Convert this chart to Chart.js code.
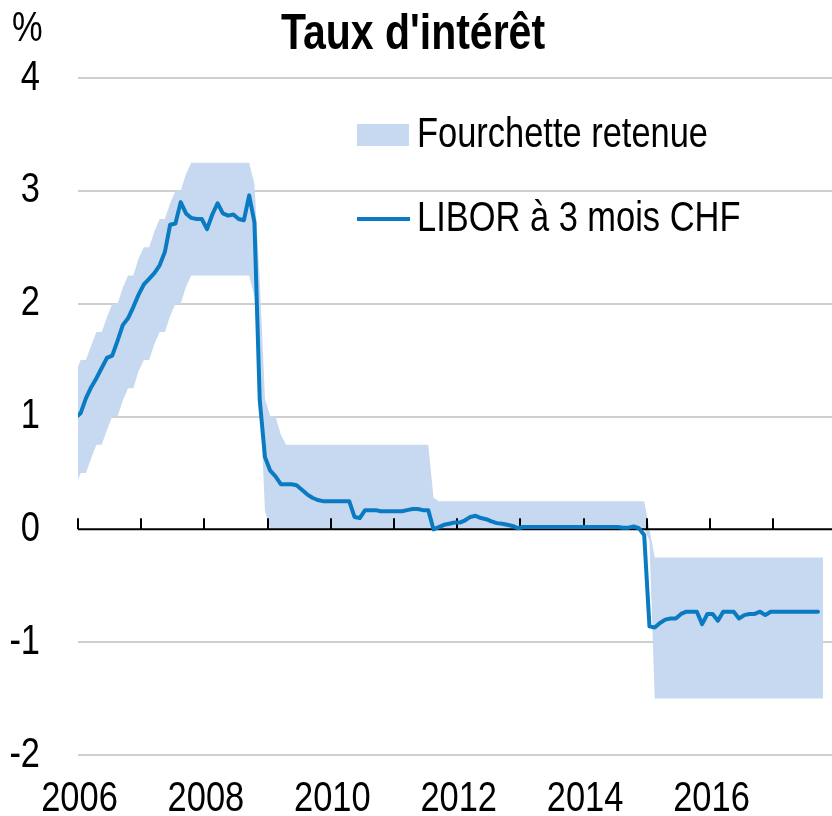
<!DOCTYPE html>
<html><head><meta charset="utf-8">
<script src="https://cdn.jsdelivr.net/npm/chart.js@4.4.0/dist/chart.umd.min.js"></script>
<style>html,body{margin:0;padding:0;background:#fff}#wrap{width:832px;height:816px}</style>
</head><body><div id="wrap"><canvas id="c" width="832" height="816"></canvas></div>
<script>
// Monthly series, first entry = Dec 2005, plotted mid-month
const START_YEAR = 2005 + 11 / 12;
const xTickYears = [2006, 2007, 2008, 2009, 2010, 2011, 2012, 2013, 2014, 2015, 2016, 2017];
const xLabelYears = [2006, 2008, 2010, 2012, 2014, 2016];
const yTicks = [-2, -1, 0, 1, 2, 3, 4];

const bandLow = [0.38,
  0.50,0.50,0.63,0.75,0.75,0.88,1.00,1.00,1.14,1.25,1.25,1.40,
  1.50,1.50,1.64,1.75,1.75,1.89,2.00,2.00,2.15,2.25,2.25,2.25,
  2.25,2.25,2.25,2.25,2.25,2.25,2.25,2.25,2.25,2.06,1.22,0.16,
  0,0,0,0,0,0,0,0,0,0,0,0,
  0,0,0,0,0,0,0,0,0,0,0,0,
  0,0,0,0,0,0,0,0,0,0,0,0,
  0,0,0,0,0,0,0,0,0,0,0,0,
  0,0,0,0,0,0,0,0,0,0,0,0,
  0,0,0,0,0,0,0,0,0,0,0,0,
  -0.10,-1.5,-1.5,-1.5,-1.5,-1.5,-1.5,-1.5,-1.5,-1.5,-1.5,-1.5,
  -1.5,-1.5,-1.5,-1.5,-1.5,-1.5,-1.5,-1.5,-1.5,-1.5,-1.5,-1.5,
  -1.5,-1.5,-1.5,-1.5,-1.5,-1.5,-1.5,-1.5,-1.5,-1.5];

const bandHigh = [1.38,
  1.50,1.50,1.63,1.75,1.75,1.88,2.00,2.00,2.14,2.25,2.25,2.40,
  2.50,2.50,2.64,2.75,2.75,2.89,3.00,3.00,3.15,3.25,3.25,3.25,
  3.25,3.25,3.25,3.25,3.25,3.25,3.25,3.25,3.25,3.06,2.22,1.16,
  1.00,1.00,0.84,0.75,0.75,0.75,0.75,0.75,0.75,0.75,0.75,0.75,
  0.75,0.75,0.75,0.75,0.75,0.75,0.75,0.75,0.75,0.75,0.75,0.75,
  0.75,0.75,0.75,0.75,0.75,0.75,0.75,0.28,0.25,0.25,0.25,0.25,
  0.25,0.25,0.25,0.25,0.25,0.25,0.25,0.25,0.25,0.25,0.25,0.25,
  0.25,0.25,0.25,0.25,0.25,0.25,0.25,0.25,0.25,0.25,0.25,0.25,
  0.25,0.25,0.25,0.25,0.25,0.25,0.25,0.25,0.25,0.25,0.25,0.25,
  0.00,-0.25,-0.25,-0.25,-0.25,-0.25,-0.25,-0.25,-0.25,-0.25,-0.25,-0.25,
  -0.25,-0.25,-0.25,-0.25,-0.25,-0.25,-0.25,-0.25,-0.25,-0.25,-0.25,-0.25,
  -0.25,-0.25,-0.25,-0.25,-0.25,-0.25,-0.25,-0.25,-0.25,-0.25];

const libor = [0.99,
  1.03,1.16,1.26,1.34,1.43,1.52,1.54,1.67,1.81,1.87,1.97,2.08,
  2.17,2.22,2.27,2.34,2.46,2.70,2.71,2.90,2.80,2.76,2.75,2.75,
  2.66,2.79,2.89,2.80,2.78,2.79,2.75,2.74,2.96,2.72,1.15,0.64,
  0.52,0.47,0.40,0.40,0.40,0.39,0.35,0.31,0.28,0.26,0.25,0.25,
  0.25,0.25,0.25,0.25,0.11,0.10,0.17,0.17,0.17,0.16,0.16,0.16,
  0.16,0.16,0.17,0.18,0.18,0.17,0.17,0.00,0.02,0.04,0.05,0.06,
  0.06,0.08,0.11,0.12,0.10,0.09,0.07,0.055,0.05,0.04,0.03,0.01,
  0.02,0.02,0.02,0.02,0.02,0.02,0.02,0.02,0.02,0.02,0.02,0.02,
  0.02,0.02,0.02,0.02,0.02,0.02,0.02,0.015,0.015,0.025,0.01,-0.05,
  -0.86,-0.87,-0.83,-0.80,-0.79,-0.79,-0.75,-0.73,-0.73,-0.73,-0.84,-0.75,
  -0.75,-0.81,-0.73,-0.73,-0.73,-0.79,-0.76,-0.75,-0.75,-0.73,-0.76,-0.73,
  -0.73,-0.73,-0.73,-0.73,-0.73,-0.73,-0.73,-0.73,-0.73,null];

const TITLE = "Taux d'intérêt";
const UNIT = "%";
const LEG_BAND = "Fourchette retenue";
const LEG_LINE = "LIBOR à 3 mois CHF";

const FONT = "'Liberation Sans Narrow','Arial Narrow','Liberation Sans',Arial,sans-serif";
const NARROW = 0.82; // horizontal condensing to mimic a narrow face
const BAND = '#C6D9F0';
const LINE = '#0A7BC2';
const GRID = '#CFCFCF';

const xOf = i => START_YEAR + (i + 0.5) / 12;
const pts = arr => arr.map((v, i) => ({x: xOf(i), y: v}));

Chart.defaults.font.family = FONT;
Chart.defaults.color = '#000';

function narrowText(ctx, text, x, y, align, baseline, font) {
  ctx.save();
  ctx.font = font;
  ctx.textAlign = align;
  ctx.textBaseline = baseline;
  ctx.fillStyle = '#000';
  ctx.translate(x, y);
  ctx.scale(NARROW, 1);
  ctx.fillText(text, 0, 0);
  ctx.restore();
}

const deco = {
  id: 'deco',
  beforeDatasetDraw(chart, args) {
    if (args.index !== 2) return;
    const {ctx, chartArea, scales: {x, y}} = chart;
    const y0 = y.getPixelForValue(0);
    ctx.save();
    ctx.strokeStyle = '#000';
    ctx.lineWidth = 2;
    ctx.beginPath();
    ctx.moveTo(chartArea.left, y0); ctx.lineTo(chartArea.right, y0);
    ctx.stroke();
    xTickYears.forEach(yr => {
      const px = Math.round(x.getPixelForValue(yr));
      ctx.beginPath(); ctx.moveTo(px, y0); ctx.lineTo(px, y0 - 11); ctx.stroke();
    });
    ctx.restore();
  },
  afterDraw(chart) {
    const {ctx, scales: {x, y}} = chart;
    const f42 = `42px ${FONT}`;
    // axis labels
    xLabelYears.forEach(yr => narrowText(ctx, String(yr), x.getPixelForValue(yr) + 1.5, 799, 'center', 'middle', f42));
    yTicks.forEach(v => narrowText(ctx, String(v), 40, y.getPixelForValue(v), 'right', 'middle', f42));
    // title and unit
    narrowText(ctx, TITLE, 413, 49, 'center', 'alphabetic', `bold 50px ${FONT}`);
    narrowText(ctx, UNIT, 12, 41, 'left', 'alphabetic', f42);
    // legend
    ctx.save();
    ctx.fillStyle = BAND;
    ctx.fillRect(357, 124, 52, 22);
    ctx.strokeStyle = LINE; ctx.lineWidth = 4;
    ctx.beginPath(); ctx.moveTo(357, 219); ctx.lineTo(410, 219); ctx.stroke();
    ctx.restore();
    narrowText(ctx, LEG_BAND, 417, 135, 'left', 'middle', f42);
    narrowText(ctx, LEG_LINE, 417, 219, 'left', 'middle', f42);
  }
};

new Chart(document.getElementById('c'), {
  type: 'line',
  data: {
    datasets: [
      {label: 'low', data: pts(bandLow), borderWidth: 0, pointRadius: 0, fill: false, order: 3, borderColor: 'rgba(0,0,0,0)'},
      {label: LEG_BAND, data: pts(bandHigh), borderWidth: 0, pointRadius: 0, fill: '-1', backgroundColor: BAND, borderColor: 'rgba(0,0,0,0)', order: 2},
      {label: LEG_LINE, data: pts(libor), borderColor: LINE, borderWidth: 4, pointRadius: 0, fill: false, tension: 0, borderJoinStyle: 'round', borderCapStyle: 'round', order: 1, spanGaps: false}
    ]
  },
  options: {
    responsive: false,
    animation: false,
    devicePixelRatio: 1,
    layout: {padding: {top: 78, left: 0, right: 0, bottom: 0}},
    plugins: {legend: {display: false}, title: {display: false}, tooltip: {enabled: false}},
    scales: {
      x: {
        type: 'linear', min: 2006, max: 2017.93,
        grid: {display: false, drawTicks: false},
        border: {display: false},
        afterBuildTicks: s => { s.ticks = xTickYears.map(v => ({value: v})); },
        ticks: {display: false},
        afterFit: s => { s.height = 61; }
      },
      y: {
        min: -2, max: 4,
        afterBuildTicks: s => { s.ticks = yTicks.map(v => ({value: v})); },
        grid: {color: c => (c.tick && c.tick.value === 0) ? 'rgba(0,0,0,0)' : GRID, lineWidth: 2, drawTicks: false},
        border: {display: false},
        ticks: {display: false},
        afterFit: s => { s.width = 78; }
      }
    }
  },
  plugins: [deco]
});
</script>
</body></html>
